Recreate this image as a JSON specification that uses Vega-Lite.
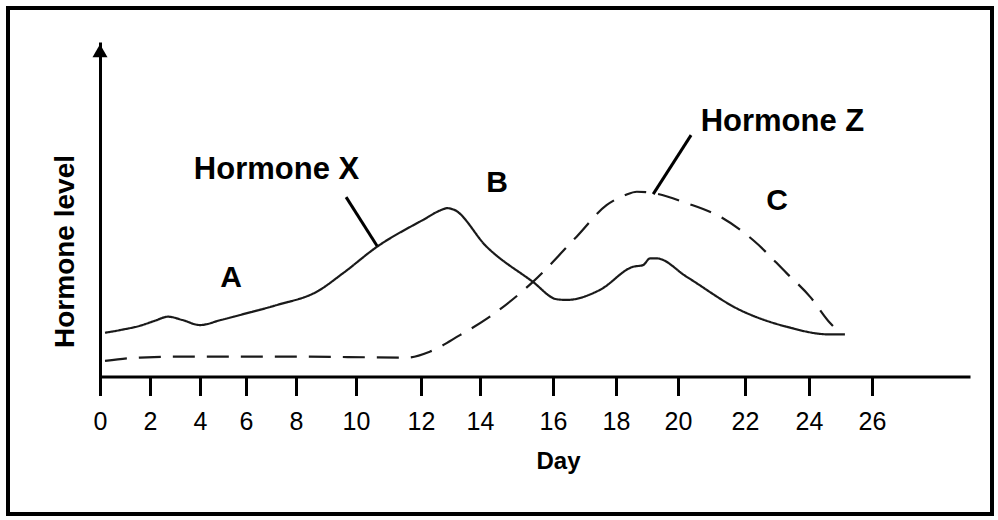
{
  "$schema": "https://vega.github.io/schema/vega-lite/v6.json",
  "width": 984,
  "height": 506,
  "autosize": "none",
  "padding": {"left": 8, "top": 8, "right": 6, "bottom": 6},
  "background": "white",
  "config": {
    "view": {"stroke": "black", "strokeWidth": 4},
    "font": "Liberation Sans"
  },
  "datasets": {
    "curves": [
      {"hormone": "Hormone X", "day": 0.2, "level": 13.2},
      {"hormone": "Hormone X", "day": 0.8, "level": 14.0},
      {"hormone": "Hormone X", "day": 1.6, "level": 15.3},
      {"hormone": "Hormone X", "day": 2.2, "level": 16.8},
      {"hormone": "Hormone X", "day": 2.72, "level": 18.0},
      {"hormone": "Hormone X", "day": 3.3, "level": 17.0},
      {"hormone": "Hormone X", "day": 4.0, "level": 15.5},
      {"hormone": "Hormone X", "day": 4.9, "level": 17.0},
      {"hormone": "Hormone X", "day": 5.74, "level": 18.5},
      {"hormone": "Hormone X", "day": 7.24, "level": 21.5},
      {"hormone": "Hormone X", "day": 8.7, "level": 25.5},
      {"hormone": "Hormone X", "day": 9.57, "level": 31.0},
      {"hormone": "Hormone X", "day": 10.65, "level": 38.9},
      {"hormone": "Hormone X", "day": 12.07, "level": 46.9},
      {"hormone": "Hormone X", "day": 12.7, "level": 49.9},
      {"hormone": "Hormone X", "day": 12.88, "level": 50.4},
      {"hormone": "Hormone X", "day": 13.1, "level": 50.0},
      {"hormone": "Hormone X", "day": 14.18, "level": 38.9},
      {"hormone": "Hormone X", "day": 15.45, "level": 28.4},
      {"hormone": "Hormone X", "day": 16.12, "level": 23.2},
      {"hormone": "Hormone X", "day": 16.43, "level": 23.0},
      {"hormone": "Hormone X", "day": 17.49, "level": 26.0},
      {"hormone": "Hormone X", "day": 18.55, "level": 32.9},
      {"hormone": "Hormone X", "day": 18.87, "level": 33.4},
      {"hormone": "Hormone X", "day": 19.1, "level": 35.4},
      {"hormone": "Hormone X", "day": 19.31, "level": 35.4},
      {"hormone": "Hormone X", "day": 20.26, "level": 29.9},
      {"hormone": "Hormone X", "day": 21.85, "level": 20.0},
      {"hormone": "Hormone X", "day": 23.3, "level": 15.0},
      {"hormone": "Hormone X", "day": 24.67, "level": 12.7},
      {"hormone": "Hormone X", "day": 25.14, "level": 12.7},
      {"hormone": "Hormone Z", "day": 0.2, "level": 4.8},
      {"hormone": "Hormone Z", "day": 1.6, "level": 5.8},
      {"hormone": "Hormone Z", "day": 3.6, "level": 6.1},
      {"hormone": "Hormone Z", "day": 7.76, "level": 6.1},
      {"hormone": "Hormone Z", "day": 11.57, "level": 5.8},
      {"hormone": "Hormone Z", "day": 12.31, "level": 7.6},
      {"hormone": "Hormone Z", "day": 13.32, "level": 12.5},
      {"hormone": "Hormone Z", "day": 14.2, "level": 17.5},
      {"hormone": "Hormone Z", "day": 15.45, "level": 28.4},
      {"hormone": "Hormone Z", "day": 16.75, "level": 41.9},
      {"hormone": "Hormone Z", "day": 17.7, "level": 51.3},
      {"hormone": "Hormone Z", "day": 18.3, "level": 54.3},
      {"hormone": "Hormone Z", "day": 18.67, "level": 55.3},
      {"hormone": "Hormone Z", "day": 19.2, "level": 54.9},
      {"hormone": "Hormone Z", "day": 20.26, "level": 51.9},
      {"hormone": "Hormone Z", "day": 21.25, "level": 47.9},
      {"hormone": "Hormone Z", "day": 22.25, "level": 40.9},
      {"hormone": "Hormone Z", "day": 23.3, "level": 31.0},
      {"hormone": "Hormone Z", "day": 24.03, "level": 24.0},
      {"hormone": "Hormone Z", "day": 24.67, "level": 16.1},
      {"hormone": "Hormone Z", "day": 24.76, "level": 15.2}
    ],
    "labels": [
      {"text": "Hormone X", "day": 7.22, "level": 59.1, "size": 31},
      {"text": "Hormone Z", "day": 23.17, "level": 73.4, "size": 31},
      {"text": "A", "day": 5.35, "level": 27.0, "size": 30},
      {"text": "B", "day": 14.47, "level": 55.2, "size": 30},
      {"text": "C", "day": 23.0, "level": 49.9, "size": 30}
    ],
    "leaders": [
      {"day": 9.67, "level": 53.7, "day2": 10.65, "level2": 39.1},
      {"day": 20.39, "level": 72.2, "day2": 19.2, "level2": 54.6}
    ]
  },
  "layer": [
    {
      "data": {"name": "curves"},
      "mark": {"type": "line", "interpolate": "monotone", "strokeWidth": 2.2, "color": "#1a1a1a"},
      "encoding": {
        "x": {
          "field": "day", "type": "quantitative", "title": "Day",
          "scale": {"domain": [0, 2, 4, 6, 8, 10, 12, 14, 16, 18, 20, 22, 24, 26, 29], "range": [92, 142, 192, 238, 288, 348, 413, 472, 545, 608, 670, 737, 801, 864, 962], "nice": false, "zero": false},
          "axis": {
            "values": [0, 2, 4, 6, 8, 10, 12, 14, 16, 18, 20, 22, 24, 26],
            "format": "d",
            "grid": false,
            "offset": -137.5,
            "domain": true, "domainColor": "black", "domainWidth": 3,
            "ticks": true, "tickColor": "black", "tickWidth": 3, "tickSize": 19,
            "labelFont": "Liberation Sans", "labelFontSize": 25, "labelColor": "black",
            "labelBaseline": "alphabetic", "labelPadding": 33.5, "labelFlush": false, "labelOverlap": false,
            "title": "Day", "titleFont": "Liberation Sans", "titleFontSize": 24, "titleFontWeight": "bold", "titleColor": "black",
            "titleX": 550, "titleY": 91.5, "titleBaseline": "alphabetic", "titleAlign": "center"
          }
        },
        "y": {
          "field": "level", "type": "quantitative", "title": "Hormone level",
          "scale": {"domain": [0, 100], "range": [369, 34], "nice": false, "zero": false},
          "axis": {
            "grid": false,
            "offset": -92,
            "domain": true, "domainColor": "black", "domainWidth": 3,
            "ticks": false, "labels": false,
            "title": "Hormone level", "titleFont": "Liberation Sans", "titleFontSize": 28, "titleFontWeight": "bold", "titleColor": "black",
            "titleX": -27, "titleY": 243, "titleAngle": 270, "titleBaseline": "alphabetic", "titleAlign": "center"
          }
        },
        "detail": {"field": "hormone"},
        "strokeDash": {
          "field": "hormone", "type": "nominal",
          "scale": {"domain": ["Hormone X", "Hormone Z"], "range": [[1, 0], [22, 12]]},
          "legend": null
        }
      }
    },
    {
      "data": {"name": "leaders"},
      "mark": {"type": "rule", "strokeWidth": 3, "color": "black"},
      "encoding": {
        "x": {"field": "day", "type": "quantitative", "title": "Day"},
        "y": {"field": "level", "type": "quantitative", "title": "Hormone level"},
        "x2": {"field": "day2"},
        "y2": {"field": "level2"}
      }
    },
    {
      "data": {"name": "labels"},
      "mark": {"type": "text", "font": "Liberation Sans", "fontWeight": "bold", "align": "center", "baseline": "alphabetic", "color": "black"},
      "encoding": {
        "x": {"field": "day", "type": "quantitative", "title": "Day"},
        "y": {"field": "level", "type": "quantitative", "title": "Hormone level"},
        "text": {"field": "text"},
        "size": {"field": "size", "type": "quantitative", "scale": null}
      }
    },
    {
      "data": {"values": [{"day": 0, "level": 97.4}]},
      "mark": {"type": "point", "shape": "triangle-up", "filled": true, "size": 225, "color": "black", "opacity": 1},
      "encoding": {
        "x": {"field": "day", "type": "quantitative", "title": "Day"},
        "y": {"field": "level", "type": "quantitative", "title": "Hormone level"}
      }
    }
  ]
}
